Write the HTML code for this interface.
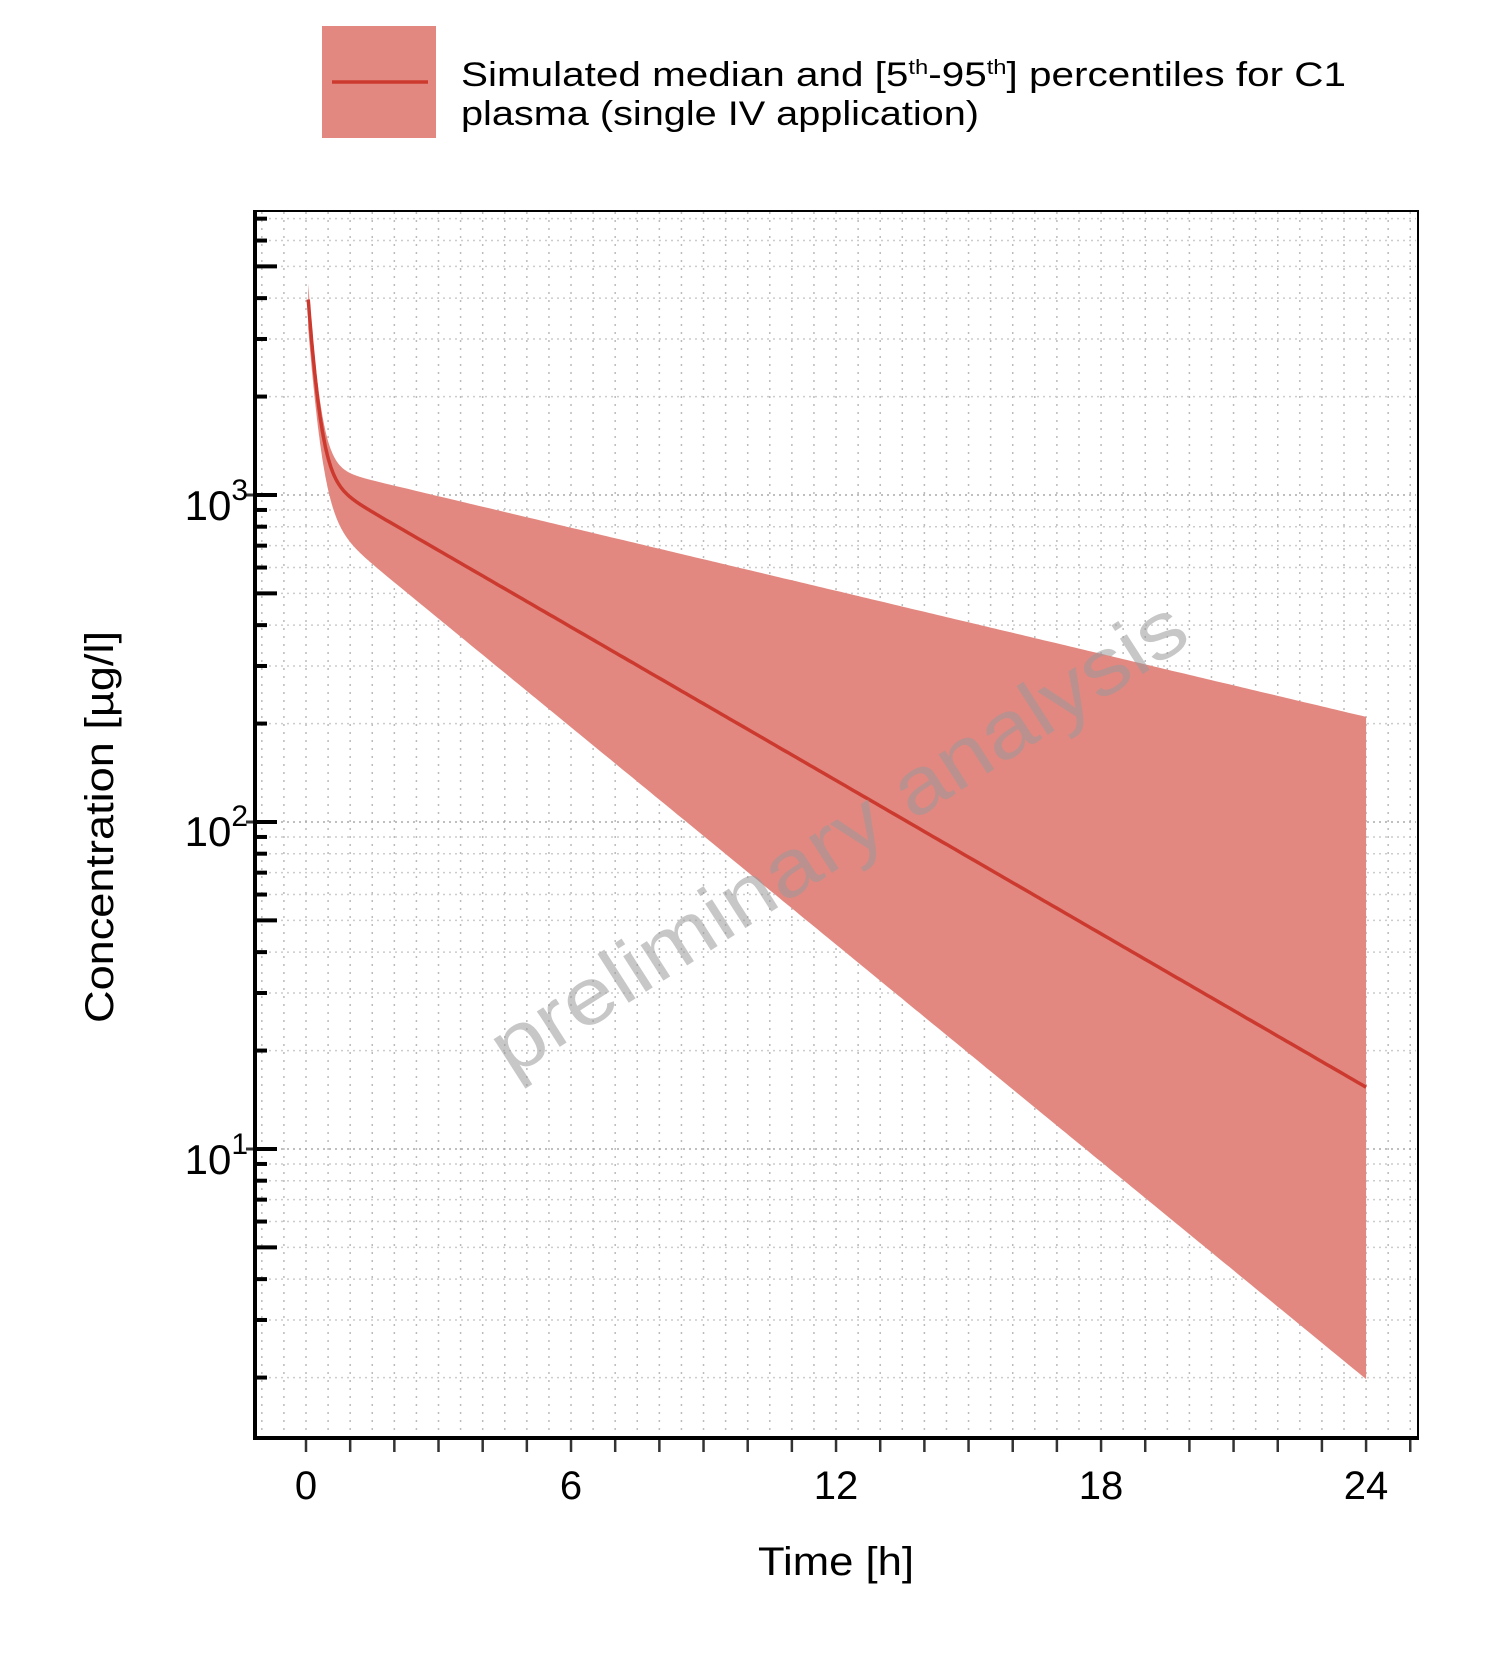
<!DOCTYPE html>
<html><head><meta charset="utf-8"><style>
html,body{margin:0;padding:0;background:#fff;}
svg{display:block;font-family:"Liberation Sans",sans-serif;}
</style></head><body>
<svg id="s" width="1500" height="1665" viewBox="0 0 1500 1665" xmlns="http://www.w3.org/2000/svg">
<rect width="1500" height="1665" fill="#fff"/>
<g id="grid"></g>
<path id="band" fill="#e28880"/>
<path id="med" fill="none" stroke="#cc3a2f" stroke-width="3.5"/>
<text x="0" y="0" transform="translate(841,842) rotate(-32.6)" text-anchor="middle" dominant-baseline="middle" font-size="80" fill="#999" fill-opacity="0.55" textLength="810" lengthAdjust="spacingAndGlyphs">preliminary analysis</text>
<g id="ticks"></g>
<rect x="255" y="211" width="1163" height="1227" fill="none" stroke="#000" stroke-width="2"/>
<line x1="255" y1="210" x2="255" y2="1440" stroke="#000" stroke-width="4"/>
<line x1="253" y1="1438" x2="1419" y2="1438" stroke="#000" stroke-width="4"/>
<g font-size="42" fill="#000" text-anchor="end">
<text x="248" y="520">10<tspan dy="-20" font-size="30">3</tspan></text>
<text x="248" y="846">10<tspan dy="-20" font-size="30">2</tspan></text>
<text x="248" y="1174">10<tspan dy="-20" font-size="30">1</tspan></text>
</g>
<g font-size="40" fill="#000" text-anchor="middle">
<text x="306" y="1499">0</text>
<text x="571" y="1499">6</text>
<text x="836" y="1499">12</text>
<text x="1101" y="1499">18</text>
<text x="1366" y="1499">24</text>
<text x="836" y="1575" textLength="156" lengthAdjust="spacingAndGlyphs">Time [h]</text>
<text transform="translate(113,827) rotate(-90)" textLength="392" lengthAdjust="spacingAndGlyphs">Concentration [µg/l]</text>
</g>
<rect x="322" y="26" width="114" height="112" fill="#e28880"/>
<line x1="332" y1="82" x2="428" y2="82" stroke="#cc3a2f" stroke-width="3.5"/>
<g font-size="34" fill="#000">
<text x="461" y="86" textLength="885" lengthAdjust="spacingAndGlyphs">Simulated median and [5<tspan dy="-12" font-size="20">th</tspan><tspan dy="12">-95</tspan><tspan dy="-12" font-size="20">th</tspan><tspan dy="12">] percentiles for C1</tspan></text>
<text x="461" y="125" textLength="518" lengthAdjust="spacingAndGlyphs">plasma (single IV application)</text>
</g>
</svg>
<script>
var X=function(t){return 306+t*44.17;};
var Y=function(c){return 495-(Math.log10(c)-3)*327;};
var NS="http://www.w3.org/2000/svg";
function el(p,n,a){var e=document.createElementNS(NS,n);for(var k in a)e.setAttribute(k,a[k]);document.getElementById(p).appendChild(e);}
for(var t=-1;t<=25;t+=0.5){var x=X(t);if(x<257||x>1416)continue;el("grid","line",{x1:x,y1:212,x2:x,y2:1436,stroke:"#bbb","stroke-width":1.5,"stroke-dasharray":"2 6"});}
for(var d=0;d<=3;d++)for(var m=1;m<=9;m++){var c=m*Math.pow(10,d);var y=Y(c);if(y<212||y>1436)continue;el("grid","line",{x1:257,y1:y,x2:1416,y2:y,stroke:m==1?"#aaa":"#ccc","stroke-width":1.5,"stroke-dasharray":"2 4"});
 var L=(m==1||m==5)?22:12;el("ticks","line",{x1:255,y1:y,x2:255+L,y2:y,stroke:"#000","stroke-width":4});
 if(m==1)el("ticks","line",{x1:246,y1:y,x2:255,y2:y,stroke:"#333","stroke-width":3});}
for(var t=0;t<=25;t++){var x=X(t);if(x>1416)continue;el("ticks","line",{x1:x,y1:1438,x2:x,y2:1452,stroke:"#333","stroke-width":2.5});}
function med(t){return 3700*Math.exp(-5.5*t)+1162*Math.exp(-0.18*t);}
function up(t){return 4200*Math.exp(-5.5*t)+1238*Math.exp(-0.074*t);}
function lo(t){return 3000*Math.exp(-5*t)+900*Math.exp(-0.255*t);}
var pts=[],t0=0.05;
for(var t=t0;t<=24.0001;t+=(t<1.5?0.01:0.1))pts.push(t);
var dm="",du="",dl="";
pts.forEach(function(t,i){dm+=(i?"L":"M")+X(t).toFixed(1)+","+Y(med(t)).toFixed(1);du+=(i?"L":"M")+X(t).toFixed(1)+","+Y(up(t)).toFixed(1);});
var rev=pts.slice().reverse();
rev.forEach(function(t){dl+="L"+X(t).toFixed(1)+","+Y(lo(t)).toFixed(1);});
document.getElementById("med").setAttribute("d",dm);
document.getElementById("band").setAttribute("d",du+dl+"Z");
</script>
</body></html>
